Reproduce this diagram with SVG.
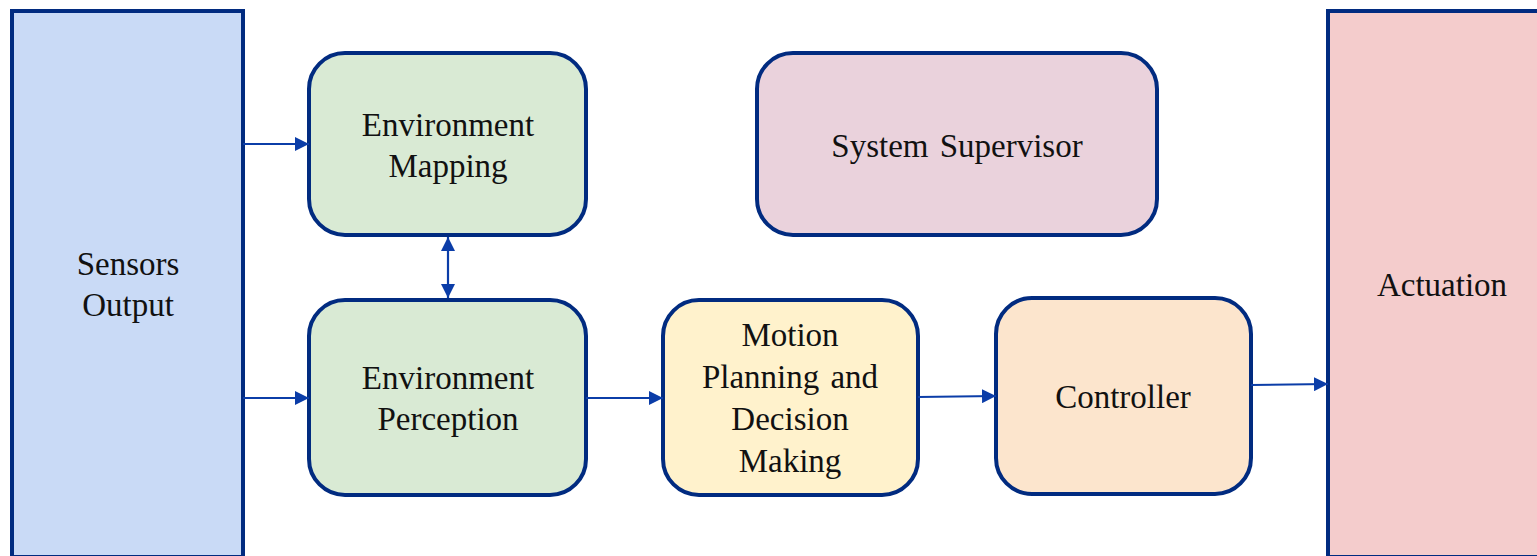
<svg xmlns="http://www.w3.org/2000/svg" width="1537" height="556" viewBox="0 0 1537 556">
  <style>
    .box { stroke: #012B80; stroke-width: 4; }
    .lbl { font-family: "Liberation Serif", "Times New Roman", serif; font-size: 33px; fill: #111; text-anchor: middle; word-spacing: 3px; }
    .wire { stroke: #0B3DA8; stroke-width: 2.2; fill: none; }
  </style>
  <defs>
    <marker id="arrow" viewBox="0 0 10 10" refX="10" refY="5" markerWidth="14" markerHeight="14" markerUnits="userSpaceOnUse" orient="auto-start-reverse">
      <path d="M0,0 L10,5 L0,10 z" fill="#0B3DA8"/>
    </marker>
  </defs>
  <rect width="1537" height="556" fill="#ffffff"/>

  <g id="sensors">
    <rect class="box" x="12" y="11" width="231" height="546" fill="#C9DAF6"/>
    <text class="lbl" x="128" y="275">Sensors</text>
    <text class="lbl" x="128" y="316">Output</text>
  </g>

  <g id="env-mapping">
    <rect class="box" x="309" y="53" width="277" height="182" rx="36" fill="#D9EAD4"/>
    <text class="lbl" x="448" y="136">Environment</text>
    <text class="lbl" x="448" y="177">Mapping</text>
  </g>

  <g id="env-perception">
    <rect class="box" x="309" y="300" width="277" height="195" rx="36" fill="#D9EAD4"/>
    <text class="lbl" x="448" y="389">Environment</text>
    <text class="lbl" x="448" y="430">Perception</text>
  </g>

  <g id="supervisor">
    <rect class="box" x="757" y="53" width="400" height="182" rx="36" fill="#EAD2DC"/>
    <text class="lbl" x="957" y="157">System  Supervisor</text>
  </g>

  <g id="motion-planning">
    <rect class="box" x="663" y="300" width="255" height="195" rx="36" fill="#FFF2CC"/>
    <text class="lbl" x="790" y="346">Motion</text>
    <text class="lbl" x="790" y="388">Planning  and</text>
    <text class="lbl" x="790" y="430">Decision</text>
    <text class="lbl" x="790" y="472">Making</text>
  </g>

  <g id="controller">
    <rect class="box" x="996" y="298" width="255" height="196" rx="36" fill="#FCE5CD"/>
    <text class="lbl" x="1123" y="408">Controller</text>
  </g>

  <g id="actuation">
    <rect class="box" x="1328" y="11" width="215" height="546" fill="#F4CCCC"/>
    <text class="lbl" x="1442" y="296">Actuation</text>
  </g>

  <g id="connectors">
    <line class="wire" x1="243" y1="144" x2="309" y2="144" marker-end="url(#arrow)"/>
    <line class="wire" x1="243" y1="398" x2="309" y2="398" marker-end="url(#arrow)"/>
    <line class="wire" x1="448" y1="237" x2="448" y2="298" marker-start="url(#arrow)" marker-end="url(#arrow)"/>
    <line class="wire" x1="586" y1="398" x2="663" y2="398" marker-end="url(#arrow)"/>
    <line class="wire" x1="918" y1="397" x2="996" y2="396" marker-end="url(#arrow)"/>
    <line class="wire" x1="1251" y1="385" x2="1328" y2="384" marker-end="url(#arrow)"/>
  </g>
</svg>
